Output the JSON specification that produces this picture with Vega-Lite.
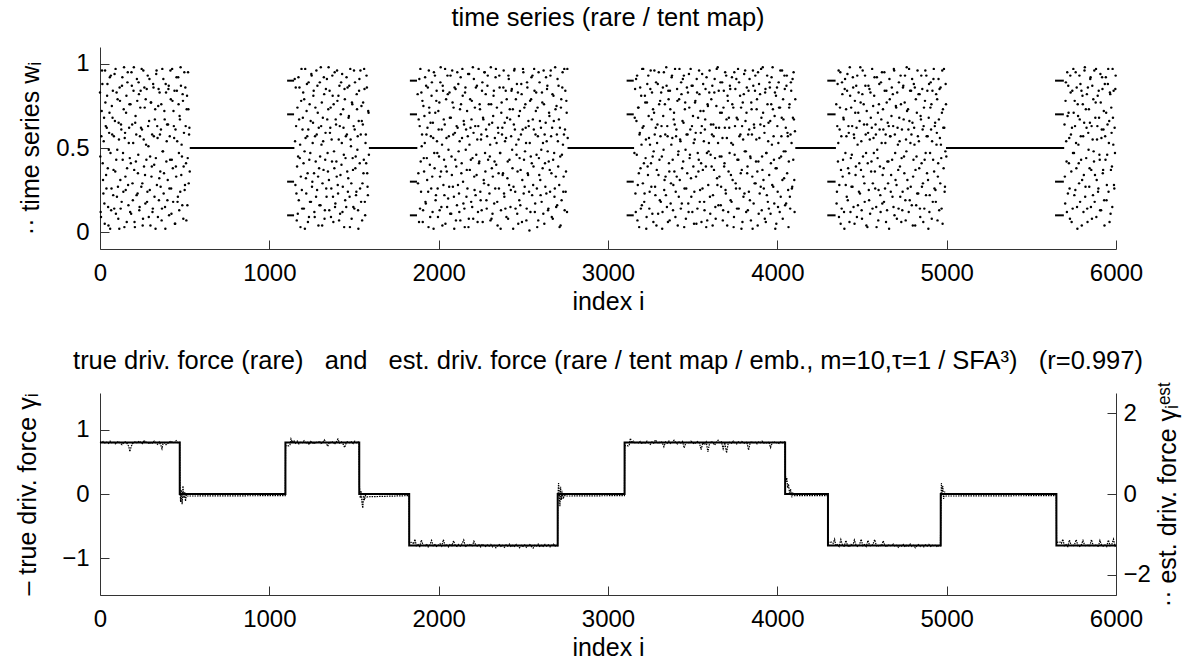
{
"$schema": "https://vega.github.io/schema/vega-lite/v6.json",
"background": "white",
"padding": {"left": 15, "top": 5, "right": 5, "bottom": 2},
"spacing": 34,
"config": {
  "font": "Liberation Sans",
  "view": {"stroke": null},
  "axis": {"labelFont": "Liberation Sans", "labelFontSize": 24, "labelColor": "black", "titleFont": "Liberation Sans", "titleFontSize": 25, "titleFontWeight": "normal", "titleColor": "black", "domainColor": "#333333", "tickColor": "#333333", "grid": false, "tickSize": -9, "labelFlush": false},
  "title": {"font": "Liberation Sans", "fontSize": 25.5, "fontWeight": "normal", "color": "black"}
},
"vconcat": [
{
  "width": 1016, "height": 202,
  "title": {"text": "time series (rare / tent map)", "offset": 16},
  "layer": [
    {
      "data": {"values": [
{"i":0,"w":0.83},{"i":4,"w":0.12},{"i":8,"w":0.57},{"i":12,"w":0.96},{"i":16,"w":0.41},{"i":20,"w":0.23},{"i":24,"w":0.68},{"i":28,"w":0.05},{"i":32,"w":0.77},{"i":36,"w":0.34},
{"i":40,"w":0.62},{"i":44,"w":0.88},{"i":48,"w":0.15},{"i":52,"w":0.49},{"i":56,"w":0.71},{"i":60,"w":0.02},{"i":64,"w":0.93},{"i":68,"w":0.26},{"i":72,"w":0.58},{"i":76,"w":0.84},
{"i":80,"w":0.37},{"i":84,"w":0.14},{"i":88,"w":0.66},{"i":92,"w":0.97},{"i":96,"w":0.43},{"i":100,"w":0.21},{"i":104,"w":0.79},{"i":108,"w":0.08},{"i":112,"w":0.55},{"i":116,"w":0.86},
{"i":120,"w":0.31},{"i":124,"w":0.64},{"i":128,"w":0.18},{"i":132,"w":0.92},{"i":136,"w":0.47},{"i":140,"w":0.73},{"i":144,"w":0.03},{"i":148,"w":0.59},{"i":152,"w":0.25},{"i":156,"w":0.81},
{"i":160,"w":0.38},{"i":164,"w":0.95},{"i":168,"w":0.16},{"i":172,"w":0.62},{"i":176,"w":0.44},{"i":180,"w":0.76},{"i":184,"w":0.11},{"i":188,"w":0.87},{"i":192,"w":0.29},{"i":196,"w":0.53},
{"i":200,"w":0.98},{"i":204,"w":0.06},{"i":208,"w":0.65},{"i":212,"w":0.42},{"i":216,"w":0.22},{"i":220,"w":0.78},{"i":224,"w":0.35},{"i":228,"w":0.89},{"i":232,"w":0.13},{"i":236,"w":0.57},
{"i":240,"w":0.84},{"i":244,"w":0.27},{"i":248,"w":0.61},{"i":252,"w":0.04},{"i":256,"w":0.96},{"i":260,"w":0.39},{"i":264,"w":0.74},{"i":268,"w":0.17},{"i":272,"w":0.52},{"i":276,"w":0.85},
{"i":280,"w":0.24},{"i":284,"w":0.63},{"i":288,"w":0.09},{"i":292,"w":0.91},{"i":296,"w":0.45},{"i":300,"w":0.77},{"i":304,"w":0.33},{"i":308,"w":0.58},{"i":312,"w":0.14},{"i":316,"w":0.86},
{"i":320,"w":0.40},{"i":324,"w":0.67},{"i":328,"w":0.02},{"i":332,"w":0.94},{"i":336,"w":0.28},{"i":340,"w":0.56},{"i":344,"w":0.75},{"i":348,"w":0.19},{"i":352,"w":0.83},{"i":356,"w":0.36},
{"i":360,"w":0.61},{"i":364,"w":0.07},{"i":368,"w":0.97},{"i":372,"w":0.48},{"i":376,"w":0.23},{"i":380,"w":0.72},{"i":384,"w":0.15},{"i":388,"w":0.88},{"i":392,"w":0.42},{"i":396,"w":0.64},
{"i":400,"w":0.31},{"i":404,"w":0.85},{"i":408,"w":0.10},{"i":412,"w":0.57},{"i":416,"w":0.96},{"i":420,"w":0.26},{"i":424,"w":0.43},{"i":428,"w":0.78},{"i":432,"w":0.18},{"i":436,"w":0.63},
{"i":440,"w":0.84},{"i":444,"w":0.05},{"i":448,"w":0.39},{"i":452,"w":0.92},{"i":456,"w":0.54},{"i":460,"w":0.21},{"i":464,"w":0.76},{"i":468,"w":0.13},{"i":472,"w":0.67},{"i":476,"w":0.98},
{"i":480,"w":0.34},{"i":484,"w":0.45},{"i":488,"w":0.82},{"i":492,"w":0.08},{"i":496,"w":0.59},{"i":500,"w":0.25},{"i":504,"w":0.86},{"i":508,"w":0.41},{"i":512,"w":0.73},{"i":516,"w":0.16},
{"i":520,"w":0.95},{"i":524,"w":0.29},{"i":528,"w":0.62},
{"i":1150,"w":0.91},{"i":1154,"w":0.28},{"i":1158,"w":0.63},{"i":1162,"w":0.07},{"i":1166,"w":0.74},{"i":1170,"w":0.45},{"i":1174,"w":0.19},{"i":1178,"w":0.86},{"i":1182,"w":0.52},{"i":1186,"w":0.33},
{"i":1190,"w":0.97},{"i":1194,"w":0.14},{"i":1198,"w":0.68},{"i":1202,"w":0.41},{"i":1206,"w":0.79},{"i":1210,"w":0.02},{"i":1214,"w":0.56},{"i":1218,"w":0.23},{"i":1222,"w":0.88},{"i":1226,"w":0.35},
{"i":1230,"w":0.61},{"i":1234,"w":0.09},{"i":1238,"w":0.76},{"i":1242,"w":0.47},{"i":1246,"w":0.18},{"i":1250,"w":0.93},{"i":1254,"w":0.30},{"i":1258,"w":0.65},{"i":1262,"w":0.84},{"i":1266,"w":0.12},
{"i":1270,"w":0.57},{"i":1274,"w":0.42},{"i":1278,"w":0.96},{"i":1282,"w":0.25},{"i":1286,"w":0.71},{"i":1290,"w":0.04},{"i":1294,"w":0.38},{"i":1298,"w":0.89},{"i":1302,"w":0.16},{"i":1306,"w":0.63},
{"i":1310,"w":0.77},{"i":1314,"w":0.29},{"i":1318,"w":0.54},{"i":1322,"w":0.92},{"i":1326,"w":0.08},{"i":1330,"w":0.43},{"i":1334,"w":0.85},{"i":1338,"w":0.21},{"i":1342,"w":0.67},{"i":1346,"w":0.36},
{"i":1350,"w":0.98},{"i":1354,"w":0.13},{"i":1358,"w":0.59},{"i":1362,"w":0.74},{"i":1366,"w":0.26},{"i":1370,"w":0.42},{"i":1374,"w":0.81},{"i":1378,"w":0.06},{"i":1382,"w":0.48},{"i":1386,"w":0.95},
{"i":1390,"w":0.17},{"i":1394,"w":0.64},{"i":1398,"w":0.33},{"i":1402,"w":0.78},{"i":1406,"w":0.23},{"i":1410,"w":0.55},{"i":1414,"w":0.87},{"i":1418,"w":0.11},{"i":1422,"w":0.70},{"i":1426,"w":0.40},
{"i":1430,"w":0.94},{"i":1434,"w":0.27},{"i":1438,"w":0.62},{"i":1442,"w":0.03},{"i":1446,"w":0.79},{"i":1450,"w":0.44},{"i":1454,"w":0.15},{"i":1458,"w":0.58},{"i":1462,"w":0.86},{"i":1466,"w":0.32},
{"i":1470,"w":0.69},{"i":1474,"w":0.21},{"i":1478,"w":0.97},{"i":1482,"w":0.51},{"i":1486,"w":0.08},{"i":1490,"w":0.76},{"i":1494,"w":0.37},{"i":1498,"w":0.63},{"i":1502,"w":0.14},{"i":1506,"w":0.89},
{"i":1510,"w":0.45},{"i":1514,"w":0.24},{"i":1518,"w":0.73},{"i":1522,"w":0.57},{"i":1526,"w":0.02},{"i":1530,"w":0.84},{"i":1534,"w":0.41},{"i":1538,"w":0.96},{"i":1542,"w":0.18},{"i":1546,"w":0.66},
{"i":1550,"w":0.29},{"i":1554,"w":0.77},{"i":1558,"w":0.43},{"i":1562,"w":0.85},{"i":1566,"w":0.10},{"i":1570,"w":0.58},{"i":1574,"w":0.93},{"i":1578,"w":0.35},{"i":1582,"w":0.22},{"i":1586,"w":0.71},
{"i":1876,"w":0.82},{"i":1880,"w":0.35},{"i":1884,"w":0.06},{"i":1888,"w":0.63},{"i":1892,"w":0.97},{"i":1896,"w":0.24},{"i":1900,"w":0.51},{"i":1904,"w":0.78},{"i":1908,"w":0.13},{"i":1912,"w":0.44},
{"i":1916,"w":0.69},{"i":1920,"w":0.92},{"i":1924,"w":0.17},{"i":1928,"w":0.58},{"i":1932,"w":0.31},{"i":1936,"w":0.86},{"i":1940,"w":0.03},{"i":1944,"w":0.74},{"i":1948,"w":0.40},{"i":1952,"w":0.65},
{"i":1956,"w":0.26},{"i":1960,"w":0.89},{"i":1964,"w":0.12},{"i":1968,"w":0.56},{"i":1972,"w":0.95},{"i":1976,"w":0.38},{"i":1980,"w":0.71},{"i":1984,"w":0.22},{"i":1988,"w":0.84},{"i":1992,"w":0.47},
{"i":1996,"w":0.09},{"i":2000,"w":0.61},{"i":2004,"w":0.77},{"i":2008,"w":0.33},{"i":2012,"w":0.98},{"i":2016,"w":0.15},{"i":2020,"w":0.52},{"i":2024,"w":0.87},{"i":2028,"w":0.28},{"i":2032,"w":0.43},
{"i":2036,"w":0.64},{"i":2040,"w":0.05},{"i":2044,"w":0.79},{"i":2048,"w":0.36},{"i":2052,"w":0.93},{"i":2056,"w":0.20},{"i":2060,"w":0.57},{"i":2064,"w":0.83},{"i":2068,"w":0.11},{"i":2072,"w":0.68},
{"i":2076,"w":0.45},{"i":2080,"w":0.96},{"i":2084,"w":0.27},{"i":2088,"w":0.74},{"i":2092,"w":0.02},{"i":2096,"w":0.59},{"i":2100,"w":0.85},{"i":2104,"w":0.39},{"i":2108,"w":0.16},{"i":2112,"w":0.62},
{"i":2116,"w":0.88},{"i":2120,"w":0.23},{"i":2124,"w":0.54},{"i":2128,"w":0.07},{"i":2132,"w":0.76},{"i":2136,"w":0.41},{"i":2140,"w":0.97},{"i":2144,"w":0.30},{"i":2148,"w":0.66},{"i":2152,"w":0.14},
{"i":2156,"w":0.83},{"i":2160,"w":0.49},{"i":2164,"w":0.21},{"i":2168,"w":0.72},{"i":2172,"w":0.57},{"i":2176,"w":0.03},{"i":2180,"w":0.94},{"i":2184,"w":0.37},{"i":2188,"w":0.62},{"i":2192,"w":0.18},
{"i":2196,"w":0.78},{"i":2200,"w":0.44},{"i":2204,"w":0.08},{"i":2208,"w":0.91},{"i":2212,"w":0.25},{"i":2216,"w":0.63},{"i":2220,"w":0.86},{"i":2224,"w":0.34},{"i":2228,"w":0.55},{"i":2232,"w":0.12},
{"i":2236,"w":0.97},{"i":2240,"w":0.42},{"i":2244,"w":0.73},{"i":2248,"w":0.19},{"i":2252,"w":0.58},{"i":2256,"w":0.84},{"i":2260,"w":0.06},{"i":2264,"w":0.67},{"i":2268,"w":0.29},{"i":2272,"w":0.95},
{"i":2276,"w":0.36},{"i":2280,"w":0.61},{"i":2284,"w":0.14},{"i":2288,"w":0.87},{"i":2292,"w":0.43},{"i":2296,"w":0.76},{"i":2300,"w":0.23},{"i":2304,"w":0.52},{"i":2308,"w":0.98},{"i":2312,"w":0.08},
{"i":2316,"w":0.65},{"i":2320,"w":0.33},{"i":2324,"w":0.81},{"i":2328,"w":0.17},{"i":2332,"w":0.56},{"i":2336,"w":0.92},{"i":2340,"w":0.40},{"i":2344,"w":0.74},{"i":2348,"w":0.04},{"i":2352,"w":0.59},
{"i":2356,"w":0.26},{"i":2360,"w":0.86},{"i":2364,"w":0.47},{"i":2368,"w":0.13},{"i":2372,"w":0.77},{"i":2376,"w":0.62},{"i":2380,"w":0.35},{"i":2384,"w":0.96},{"i":2388,"w":0.21},{"i":2392,"w":0.54},
{"i":2396,"w":0.84},{"i":2400,"w":0.09},{"i":2404,"w":0.68},{"i":2408,"w":0.42},{"i":2412,"w":0.93},{"i":2416,"w":0.28},{"i":2420,"w":0.73},{"i":2424,"w":0.15},{"i":2428,"w":0.57},{"i":2432,"w":0.85},
{"i":2436,"w":0.38},{"i":2440,"w":0.02},{"i":2444,"w":0.64},{"i":2448,"w":0.97},{"i":2452,"w":0.24},{"i":2456,"w":0.79},{"i":2460,"w":0.46},{"i":2464,"w":0.11},{"i":2468,"w":0.83},{"i":2472,"w":0.55},
{"i":2476,"w":0.19},{"i":2480,"w":0.72},{"i":2484,"w":0.37},{"i":2488,"w":0.88},{"i":2492,"w":0.06},{"i":2496,"w":0.61},{"i":2500,"w":0.95},{"i":2504,"w":0.43},{"i":2508,"w":0.27},{"i":2512,"w":0.76},
{"i":2516,"w":0.53},{"i":2520,"w":0.14},{"i":2524,"w":0.86},{"i":2528,"w":0.34},{"i":2532,"w":0.63},{"i":2536,"w":0.01},{"i":2540,"w":0.78},{"i":2544,"w":0.45},{"i":2548,"w":0.92},{"i":2552,"w":0.22},
{"i":2556,"w":0.67},{"i":2560,"w":0.39},{"i":2564,"w":0.97},{"i":2568,"w":0.12},{"i":2572,"w":0.58},{"i":2576,"w":0.83},{"i":2580,"w":0.26},{"i":2584,"w":0.74},{"i":2588,"w":0.07},{"i":2592,"w":0.44},
{"i":2596,"w":0.89},{"i":2600,"w":0.31},{"i":2604,"w":0.62},{"i":2608,"w":0.18},{"i":2612,"w":0.77},{"i":2616,"w":0.53},{"i":2620,"w":0.96},{"i":2624,"w":0.05},{"i":2628,"w":0.41},{"i":2632,"w":0.65},
{"i":2636,"w":0.23},{"i":2640,"w":0.85},{"i":2644,"w":0.48},{"i":2648,"w":0.14},{"i":2652,"w":0.71},{"i":2656,"w":0.37},{"i":2660,"w":0.93},{"i":2664,"w":0.57},{"i":2668,"w":0.09},{"i":2672,"w":0.82},
{"i":2676,"w":0.43},{"i":2680,"w":0.66},{"i":2684,"w":0.21},{"i":2688,"w":0.98},{"i":2692,"w":0.33},{"i":2696,"w":0.75},{"i":2700,"w":0.16},{"i":2704,"w":0.54},{"i":2708,"w":0.87},{"i":2712,"w":0.28},
{"i":2716,"w":0.62},{"i":2720,"w":0.04},{"i":2724,"w":0.79},{"i":2728,"w":0.46},{"i":2732,"w":0.95},{"i":2736,"w":0.24},{"i":2740,"w":0.58},{"i":2744,"w":0.13},{"i":2748,"w":0.84},{"i":2752,"w":0.36},
{"i":2756,"w":0.71},{"i":2760,"w":0.97},
{"i":3156,"w":0.47},{"i":3160,"w":0.85},{"i":3164,"w":0.12},{"i":3168,"w":0.66},{"i":3172,"w":0.93},{"i":3176,"w":0.28},{"i":3180,"w":0.74},{"i":3184,"w":0.03},{"i":3188,"w":0.59},{"i":3192,"w":0.38},
{"i":3196,"w":0.81},{"i":3200,"w":0.16},{"i":3204,"w":0.62},{"i":3208,"w":0.97},{"i":3212,"w":0.41},{"i":3216,"w":0.23},{"i":3220,"w":0.77},{"i":3224,"w":0.55},{"i":3228,"w":0.09},{"i":3232,"w":0.88},
{"i":3236,"w":0.34},{"i":3240,"w":0.69},{"i":3244,"w":0.14},{"i":3248,"w":0.52},{"i":3252,"w":0.96},{"i":3256,"w":0.27},{"i":3260,"w":0.83},{"i":3264,"w":0.45},{"i":3268,"w":0.06},{"i":3272,"w":0.71},
{"i":3276,"w":0.58},{"i":3280,"w":0.22},{"i":3284,"w":0.89},{"i":3288,"w":0.37},{"i":3292,"w":0.64},{"i":3296,"w":0.11},{"i":3300,"w":0.95},{"i":3304,"w":0.43},{"i":3308,"w":0.78},{"i":3312,"w":0.18},
{"i":3316,"w":0.63},{"i":3320,"w":0.02},{"i":3324,"w":0.86},{"i":3328,"w":0.49},{"i":3332,"w":0.25},{"i":3336,"w":0.76},{"i":3340,"w":0.33},{"i":3344,"w":0.98},{"i":3348,"w":0.15},{"i":3352,"w":0.57},
{"i":3356,"w":0.84},{"i":3360,"w":0.41},{"i":3364,"w":0.07},{"i":3368,"w":0.73},{"i":3372,"w":0.29},{"i":3376,"w":0.92},{"i":3380,"w":0.56},{"i":3384,"w":0.13},{"i":3388,"w":0.67},{"i":3392,"w":0.36},
{"i":3396,"w":0.97},{"i":3400,"w":0.24},{"i":3404,"w":0.61},{"i":3408,"w":0.85},{"i":3412,"w":0.04},{"i":3416,"w":0.48},{"i":3420,"w":0.79},{"i":3424,"w":0.31},{"i":3428,"w":0.54},{"i":3432,"w":0.89},
{"i":3436,"w":0.17},{"i":3440,"w":0.66},{"i":3444,"w":0.42},{"i":3448,"w":0.93},{"i":3452,"w":0.26},{"i":3456,"w":0.77},{"i":3460,"w":0.08},{"i":3464,"w":0.58},{"i":3468,"w":0.35},{"i":3472,"w":0.83},
{"i":3476,"w":0.12},{"i":3480,"w":0.74},{"i":3484,"w":0.46},{"i":3488,"w":0.97},{"i":3492,"w":0.21},{"i":3496,"w":0.63},{"i":3500,"w":0.87},{"i":3504,"w":0.39},{"i":3508,"w":0.05},{"i":3512,"w":0.55},
{"i":3516,"w":0.78},{"i":3520,"w":0.33},{"i":3524,"w":0.91},{"i":3528,"w":0.14},{"i":3532,"w":0.68},{"i":3536,"w":0.43},{"i":3540,"w":0.82},{"i":3544,"w":0.25},{"i":3548,"w":0.59},{"i":3552,"w":0.06},
{"i":3556,"w":0.94},{"i":3560,"w":0.37},{"i":3564,"w":0.72},{"i":3568,"w":0.18},{"i":3572,"w":0.61},{"i":3576,"w":0.85},{"i":3580,"w":0.03},{"i":3584,"w":0.47},{"i":3588,"w":0.76},{"i":3592,"w":0.28},
{"i":3596,"w":0.53},{"i":3600,"w":0.96},{"i":3604,"w":0.11},{"i":3608,"w":0.64},{"i":3612,"w":0.39},{"i":3616,"w":0.87},{"i":3620,"w":0.22},{"i":3624,"w":0.57},{"i":3628,"w":0.83},{"i":3632,"w":0.44},
{"i":3636,"w":0.08},{"i":3640,"w":0.75},{"i":3644,"w":0.32},{"i":3648,"w":0.98},{"i":3652,"w":0.16},{"i":3656,"w":0.62},{"i":3660,"w":0.45},{"i":3664,"w":0.89},{"i":3668,"w":0.27},{"i":3672,"w":0.71},
{"i":3676,"w":0.56},{"i":3680,"w":0.13},{"i":3684,"w":0.84},{"i":3688,"w":0.41},{"i":3692,"w":0.95},{"i":3696,"w":0.23},{"i":3700,"w":0.67},{"i":3704,"w":0.04},{"i":3708,"w":0.78},{"i":3712,"w":0.36},
{"i":3716,"w":0.62},{"i":3720,"w":0.87},{"i":3724,"w":0.19},{"i":3728,"w":0.53},{"i":3732,"w":0.92},{"i":3736,"w":0.31},{"i":3740,"w":0.74},{"i":3744,"w":0.09},{"i":3748,"w":0.46},{"i":3752,"w":0.85},
{"i":3756,"w":0.26},{"i":3760,"w":0.68},{"i":3764,"w":0.43},{"i":3768,"w":0.97},{"i":3772,"w":0.14},{"i":3776,"w":0.57},{"i":3780,"w":0.81},{"i":3784,"w":0.35},{"i":3788,"w":0.02},{"i":3792,"w":0.63},
{"i":3796,"w":0.77},{"i":3800,"w":0.21},{"i":3804,"w":0.94},{"i":3808,"w":0.48},{"i":3812,"w":0.66},{"i":3816,"w":0.12},{"i":3820,"w":0.86},{"i":3824,"w":0.39},{"i":3828,"w":0.58},{"i":3832,"w":0.24},
{"i":3836,"w":0.91},{"i":3840,"w":0.45},{"i":3844,"w":0.07},{"i":3848,"w":0.73},{"i":3852,"w":0.33},{"i":3856,"w":0.96},{"i":3860,"w":0.17},{"i":3864,"w":0.62},{"i":3868,"w":0.84},{"i":3872,"w":0.29},
{"i":3876,"w":0.55},{"i":3880,"w":0.79},{"i":3884,"w":0.04},{"i":3888,"w":0.42},{"i":3892,"w":0.88},{"i":3896,"w":0.23},{"i":3900,"w":0.64},{"i":3904,"w":0.97},{"i":3908,"w":0.13},{"i":3912,"w":0.37},
{"i":3916,"w":0.71},{"i":3920,"w":0.26},{"i":3924,"w":0.59},{"i":3928,"w":0.83},{"i":3932,"w":0.06},{"i":3936,"w":0.47},{"i":3940,"w":0.93},{"i":3944,"w":0.18},{"i":3948,"w":0.65},{"i":3952,"w":0.34},
{"i":3956,"w":0.86},{"i":3960,"w":0.11},{"i":3964,"w":0.76},{"i":3968,"w":0.52},{"i":3972,"w":0.98},{"i":3976,"w":0.27},{"i":3980,"w":0.43},{"i":3984,"w":0.69},{"i":3988,"w":0.02},{"i":3992,"w":0.81},
{"i":3996,"w":0.38},{"i":4000,"w":0.63},{"i":4004,"w":0.15},{"i":4008,"w":0.89},{"i":4012,"w":0.44},{"i":4016,"w":0.74},{"i":4020,"w":0.21},{"i":4024,"w":0.57},{"i":4028,"w":0.96},{"i":4032,"w":0.08},
{"i":4036,"w":0.67},{"i":4040,"w":0.32},{"i":4044,"w":0.85},{"i":4048,"w":0.48},{"i":4052,"w":0.17},{"i":4056,"w":0.93},{"i":4060,"w":0.59},{"i":4064,"w":0.25},{"i":4068,"w":0.42},{"i":4072,"w":0.76},
{"i":4076,"w":0.14},{"i":4080,"w":0.89},{"i":4084,"w":0.53},{"i":4088,"w":0.27},{"i":4092,"w":0.68},{"i":4096,"w":0.95},{"i":4100,"w":0.31},{"i":4104,"w":0.60},
{"i":4348,"w":0.76},{"i":4352,"w":0.24},{"i":4356,"w":0.88},{"i":4360,"w":0.53},{"i":4364,"w":0.09},{"i":4368,"w":0.61},{"i":4372,"w":0.95},{"i":4376,"w":0.37},{"i":4380,"w":0.14},{"i":4384,"w":0.82},
{"i":4388,"w":0.43},{"i":4392,"w":0.67},{"i":4396,"w":0.02},{"i":4400,"w":0.91},{"i":4404,"w":0.28},{"i":4408,"w":0.57},{"i":4412,"w":0.84},{"i":4416,"w":0.19},{"i":4420,"w":0.63},{"i":4424,"w":0.35},
{"i":4428,"w":0.98},{"i":4432,"w":0.12},{"i":4436,"w":0.74},{"i":4440,"w":0.46},{"i":4444,"w":0.27},{"i":4448,"w":0.86},{"i":4452,"w":0.58},{"i":4456,"w":0.05},{"i":4460,"w":0.71},{"i":4464,"w":0.39},
{"i":4468,"w":0.62},{"i":4472,"w":0.93},{"i":4476,"w":0.16},{"i":4480,"w":0.83},{"i":4484,"w":0.41},{"i":4488,"w":0.23},{"i":4492,"w":0.77},{"i":4496,"w":0.54},{"i":4500,"w":0.08},{"i":4504,"w":0.96},
{"i":4508,"w":0.33},{"i":4512,"w":0.64},{"i":4516,"w":0.18},{"i":4520,"w":0.87},{"i":4524,"w":0.47},{"i":4528,"w":0.72},{"i":4532,"w":0.03},{"i":4536,"w":0.59},{"i":4540,"w":0.25},{"i":4544,"w":0.85},
{"i":4548,"w":0.11},{"i":4552,"w":0.68},{"i":4556,"w":0.42},{"i":4560,"w":0.97},{"i":4564,"w":0.29},{"i":4568,"w":0.56},{"i":4572,"w":0.81},{"i":4576,"w":0.36},{"i":4580,"w":0.64},{"i":4584,"w":0.15},
{"i":4588,"w":0.92},{"i":4592,"w":0.44},{"i":4596,"w":0.07},{"i":4600,"w":0.76},{"i":4604,"w":0.61},{"i":4608,"w":0.22},{"i":4612,"w":0.89},{"i":4616,"w":0.53},{"i":4620,"w":0.17},{"i":4624,"w":0.73},
{"i":4628,"w":0.38},{"i":4632,"w":0.95},{"i":4636,"w":0.26},{"i":4640,"w":0.58},{"i":4644,"w":0.84},{"i":4648,"w":0.13},{"i":4652,"w":0.65},{"i":4656,"w":0.42},{"i":4660,"w":0.02},{"i":4664,"w":0.79},
{"i":4668,"w":0.57},{"i":4672,"w":0.34},{"i":4676,"w":0.86},{"i":4680,"w":0.21},{"i":4684,"w":0.63},{"i":4688,"w":0.97},{"i":4692,"w":0.10},{"i":4696,"w":0.47},{"i":4700,"w":0.75},{"i":4704,"w":0.28},
{"i":4708,"w":0.83},{"i":4712,"w":0.52},{"i":4716,"w":0.14},{"i":4720,"w":0.68},{"i":4724,"w":0.39},{"i":4728,"w":0.93},{"i":4732,"w":0.06},{"i":4736,"w":0.61},{"i":4740,"w":0.24},{"i":4744,"w":0.87},
{"i":4748,"w":0.45},{"i":4752,"w":0.77},{"i":4756,"w":0.19},{"i":4760,"w":0.55},{"i":4764,"w":0.98},{"i":4768,"w":0.31},{"i":4772,"w":0.73},{"i":4776,"w":0.12},{"i":4780,"w":0.66},{"i":4784,"w":0.84},
{"i":4788,"w":0.27},{"i":4792,"w":0.58},{"i":4796,"w":0.91},{"i":4800,"w":0.04},{"i":4804,"w":0.43},{"i":4808,"w":0.62},{"i":4812,"w":0.86},{"i":4816,"w":0.37},{"i":4820,"w":0.16},{"i":4824,"w":0.71},
{"i":4828,"w":0.96},{"i":4832,"w":0.23},{"i":4836,"w":0.54},{"i":4840,"w":0.82},{"i":4844,"w":0.09},{"i":4848,"w":0.67},{"i":4852,"w":0.41},{"i":4856,"w":0.85},{"i":4860,"w":0.29},{"i":4864,"w":0.63},
{"i":4868,"w":0.14},{"i":4872,"w":0.78},{"i":4876,"w":0.47},{"i":4880,"w":0.93},{"i":4884,"w":0.35},{"i":4888,"w":0.57},{"i":4892,"w":0.02},{"i":4896,"w":0.88},{"i":4900,"w":0.22},{"i":4904,"w":0.74},
{"i":4908,"w":0.61},{"i":4912,"w":0.08},{"i":4916,"w":0.84},{"i":4920,"w":0.43},{"i":4924,"w":0.97},{"i":4928,"w":0.26},{"i":4932,"w":0.65},{"i":4936,"w":0.18},{"i":4940,"w":0.52},{"i":4944,"w":0.79},
{"i":4948,"w":0.33},{"i":4952,"w":0.91},{"i":4956,"w":0.13},{"i":4960,"w":0.56},{"i":4964,"w":0.86},{"i":4968,"w":0.44},{"i":4972,"w":0.71},{"i":4976,"w":0.05},{"i":4980,"w":0.62},{"i":4984,"w":0.97},
{"i":4988,"w":0.24},{"i":4992,"w":0.48},{"i":4996,"w":0.76},
{"i":5696,"w":0.64},{"i":5700,"w":0.17},{"i":5704,"w":0.89},{"i":5708,"w":0.42},{"i":5712,"w":0.95},{"i":5716,"w":0.23},{"i":5720,"w":0.71},{"i":5724,"w":0.56},{"i":5728,"w":0.08},{"i":5732,"w":0.83},
{"i":5736,"w":0.36},{"i":5740,"w":0.62},{"i":5744,"w":0.14},{"i":5748,"w":0.97},{"i":5752,"w":0.47},{"i":5756,"w":0.78},{"i":5760,"w":0.25},{"i":5764,"w":0.53},{"i":5768,"w":0.86},{"i":5772,"w":0.02},
{"i":5776,"w":0.69},{"i":5780,"w":0.41},{"i":5784,"w":0.93},{"i":5788,"w":0.18},{"i":5792,"w":0.57},{"i":5796,"w":0.84},{"i":5800,"w":0.31},{"i":5804,"w":0.76},{"i":5808,"w":0.12},{"i":5812,"w":0.65},
{"i":5816,"w":0.98},{"i":5820,"w":0.27},{"i":5824,"w":0.44},{"i":5828,"w":0.82},{"i":5832,"w":0.06},{"i":5836,"w":0.59},{"i":5840,"w":0.73},{"i":5844,"w":0.38},{"i":5848,"w":0.91},{"i":5852,"w":0.15},
{"i":5856,"w":0.63},{"i":5860,"w":0.87},{"i":5864,"w":0.22},{"i":5868,"w":0.48},{"i":5872,"w":0.96},{"i":5876,"w":0.34},{"i":5880,"w":0.77},{"i":5884,"w":0.09},{"i":5888,"w":0.55},{"i":5892,"w":0.81},
{"i":5896,"w":0.26},{"i":5900,"w":0.68},{"i":5904,"w":0.43},{"i":5908,"w":0.94},{"i":5912,"w":0.13},{"i":5916,"w":0.61},{"i":5920,"w":0.85},{"i":5924,"w":0.37},{"i":5928,"w":0.72},{"i":5932,"w":0.04},
{"i":5936,"w":0.57},{"i":5940,"w":0.92},{"i":5944,"w":0.19},{"i":5948,"w":0.46},{"i":5952,"w":0.88},{"i":5956,"w":0.24},{"i":5960,"w":0.66},{"i":5964,"w":0.83},{"i":5968,"w":0.11},{"i":5972,"w":0.74},
{"i":5976,"w":0.39},{"i":5980,"w":0.97},{"i":5984,"w":0.52},{"i":5988,"w":0.28},{"i":5992,"w":0.62},{"i":5996,"w":0.85},
{"i":2,"w":0.45},{"i":6,"w":0.09},{"i":10,"w":0.72},{"i":14,"w":0.88},{"i":18,"w":0.31},{"i":22,"w":0.54},{"i":26,"w":0.17},{"i":30,"w":0.96},{"i":34,"w":0.63},{"i":38,"w":0.26},
{"i":42,"w":0.81},{"i":46,"w":0.38},{"i":50,"w":0.04},{"i":54,"w":0.59},{"i":58,"w":0.92},{"i":62,"w":0.47},{"i":66,"w":0.13},{"i":70,"w":0.75},{"i":74,"w":0.68},{"i":78,"w":0.22},
{"i":82,"w":0.57},{"i":86,"w":0.94},{"i":90,"w":0.36},{"i":94,"w":0.11},{"i":98,"w":0.83},{"i":102,"w":0.49},{"i":106,"w":0.27},{"i":110,"w":0.65},{"i":114,"w":0.02},{"i":118,"w":0.78},
{"i":122,"w":0.14},{"i":126,"w":0.61},{"i":130,"w":0.87},{"i":134,"w":0.43},{"i":138,"w":0.24},{"i":142,"w":0.98},{"i":146,"w":0.56},{"i":150,"w":0.33},{"i":154,"w":0.71},{"i":158,"w":0.06},
{"i":162,"w":0.89},{"i":166,"w":0.28},{"i":170,"w":0.53},{"i":174,"w":0.76},{"i":178,"w":0.12},{"i":182,"w":0.41},{"i":186,"w":0.95},{"i":190,"w":0.64},{"i":194,"w":0.19},{"i":198,"w":0.84},
{"i":202,"w":0.37},{"i":206,"w":0.03},{"i":210,"w":0.69},{"i":214,"w":0.58},{"i":218,"w":0.91},{"i":222,"w":0.23},{"i":226,"w":0.46},{"i":230,"w":0.82},{"i":234,"w":0.15},{"i":238,"w":0.74},
{"i":242,"w":0.62},{"i":246,"w":0.97},{"i":250,"w":0.29},{"i":254,"w":0.08},{"i":258,"w":0.55},{"i":262,"w":0.86},{"i":266,"w":0.34},{"i":270,"w":0.79},{"i":274,"w":0.43},{"i":278,"w":0.18},
{"i":282,"w":0.93},{"i":286,"w":0.51},{"i":290,"w":0.66},{"i":294,"w":0.25},{"i":298,"w":0.04},{"i":302,"w":0.77},{"i":306,"w":0.39},{"i":310,"w":0.12},{"i":314,"w":0.88},{"i":318,"w":0.57},
{"i":322,"w":0.21},{"i":326,"w":0.73},{"i":330,"w":0.44},{"i":334,"w":0.96},{"i":338,"w":0.63},{"i":342,"w":0.09},{"i":346,"w":0.85},{"i":350,"w":0.32},{"i":354,"w":0.58},{"i":358,"w":0.27},
{"i":362,"w":0.76},{"i":366,"w":0.14},{"i":370,"w":0.48},{"i":374,"w":0.91},{"i":378,"w":0.35},{"i":382,"w":0.67},{"i":386,"w":0.02},{"i":390,"w":0.83},{"i":394,"w":0.54},{"i":398,"w":0.19},
{"i":402,"w":0.64},{"i":406,"w":0.87},{"i":410,"w":0.26},{"i":414,"w":0.43},{"i":418,"w":0.79},{"i":422,"w":0.11},{"i":426,"w":0.97},{"i":430,"w":0.38},{"i":434,"w":0.72},{"i":438,"w":0.56},
{"i":442,"w":0.05},{"i":446,"w":0.61},{"i":450,"w":0.33},{"i":454,"w":0.84},{"i":458,"w":0.18},{"i":462,"w":0.92},{"i":466,"w":0.47},{"i":470,"w":0.69},{"i":474,"w":0.24},{"i":478,"w":0.87},
{"i":482,"w":0.52},{"i":486,"w":0.16},{"i":490,"w":0.78},{"i":494,"w":0.39},{"i":498,"w":0.95},{"i":502,"w":0.28},{"i":506,"w":0.63},{"i":510,"w":0.07},{"i":514,"w":0.81},{"i":518,"w":0.44},
{"i":522,"w":0.73},{"i":526,"w":0.58},{"i":530,"w":0.36},
{"i":1152,"w":0.54},{"i":1156,"w":0.86},{"i":1160,"w":0.23},{"i":1164,"w":0.39},{"i":1168,"w":0.11},{"i":1172,"w":0.92},{"i":1176,"w":0.67},{"i":1180,"w":0.44},{"i":1184,"w":0.03},{"i":1188,"w":0.78},
{"i":1192,"w":0.25},{"i":1196,"w":0.61},{"i":1200,"w":0.83},{"i":1204,"w":0.14},{"i":1208,"w":0.48},{"i":1212,"w":0.97},{"i":1216,"w":0.32},{"i":1220,"w":0.72},{"i":1224,"w":0.57},{"i":1228,"w":0.06},
{"i":1232,"w":0.89},{"i":1236,"w":0.43},{"i":1240,"w":0.18},{"i":1244,"w":0.66},{"i":1248,"w":0.94},{"i":1252,"w":0.27},{"i":1256,"w":0.53},{"i":1260,"w":0.81},{"i":1264,"w":0.35},{"i":1268,"w":0.09},
{"i":1272,"w":0.74},{"i":1276,"w":0.21},{"i":1280,"w":0.58},{"i":1284,"w":0.87},{"i":1288,"w":0.33},{"i":1292,"w":0.62},{"i":1296,"w":0.16},{"i":1300,"w":0.45},{"i":1304,"w":0.98},{"i":1308,"w":0.52},
{"i":1312,"w":0.04},{"i":1316,"w":0.68},{"i":1320,"w":0.37},{"i":1324,"w":0.82},{"i":1328,"w":0.13},{"i":1332,"w":0.59},{"i":1336,"w":0.26},{"i":1340,"w":0.91},{"i":1344,"w":0.47},{"i":1348,"w":0.73},
{"i":1352,"w":0.31},{"i":1356,"w":0.84},{"i":1360,"w":0.62},{"i":1364,"w":0.09},{"i":1368,"w":0.55},{"i":1372,"w":0.93},{"i":1376,"w":0.21},{"i":1380,"w":0.76},{"i":1384,"w":0.38},{"i":1388,"w":0.15},
{"i":1392,"w":0.67},{"i":1396,"w":0.42},{"i":1400,"w":0.96},{"i":1404,"w":0.28},{"i":1408,"w":0.81},{"i":1412,"w":0.07},{"i":1416,"w":0.63},{"i":1420,"w":0.34},{"i":1424,"w":0.89},{"i":1428,"w":0.53},
{"i":1432,"w":0.12},{"i":1436,"w":0.73},{"i":1440,"w":0.46},{"i":1444,"w":0.85},{"i":1448,"w":0.19},{"i":1452,"w":0.57},{"i":1456,"w":0.92},{"i":1460,"w":0.36},{"i":1464,"w":0.24},{"i":1468,"w":0.68},
{"i":1472,"w":0.87},{"i":1476,"w":0.03},{"i":1480,"w":0.55},{"i":1484,"w":0.29},{"i":1488,"w":0.77},{"i":1492,"w":0.44},{"i":1496,"w":0.15},{"i":1500,"w":0.96},{"i":1504,"w":0.61},{"i":1508,"w":0.38},
{"i":1512,"w":0.22},{"i":1516,"w":0.82},{"i":1520,"w":0.49},{"i":1524,"w":0.13},{"i":1528,"w":0.66},{"i":1532,"w":0.91},{"i":1536,"w":0.26},{"i":1540,"w":0.58},{"i":1544,"w":0.75},{"i":1548,"w":0.07},
{"i":1552,"w":0.64},{"i":1556,"w":0.35},{"i":1560,"w":0.97},{"i":1564,"w":0.18},{"i":1568,"w":0.53},{"i":1572,"w":0.41},{"i":1576,"w":0.86},{"i":1580,"w":0.27},{"i":1584,"w":0.72},{"i":1588,"w":0.46},
{"i":1878,"w":0.29},{"i":1882,"w":0.67},{"i":1886,"w":0.91},{"i":1890,"w":0.14},{"i":1894,"w":0.42},{"i":1898,"w":0.83},{"i":1902,"w":0.58},{"i":1906,"w":0.06},{"i":1910,"w":0.75},{"i":1914,"w":0.36},
{"i":1918,"w":0.53},{"i":1922,"w":0.18},{"i":1926,"w":0.87},{"i":1930,"w":0.44},{"i":1934,"w":0.62},{"i":1938,"w":0.24},{"i":1942,"w":0.96},{"i":1946,"w":0.71},{"i":1950,"w":0.09},{"i":1954,"w":0.57},
{"i":1958,"w":0.81},{"i":1962,"w":0.33},{"i":1966,"w":0.65},{"i":1970,"w":0.02},{"i":1974,"w":0.47},{"i":1978,"w":0.93},{"i":1982,"w":0.19},{"i":1986,"w":0.78},{"i":1990,"w":0.54},{"i":1994,"w":0.26},
{"i":1998,"w":0.72},{"i":2002,"w":0.45},{"i":2006,"w":0.13},{"i":2010,"w":0.89},{"i":2014,"w":0.36},{"i":2018,"w":0.61},{"i":2022,"w":0.04},{"i":2026,"w":0.84},{"i":2030,"w":0.67},{"i":2034,"w":0.22},
{"i":2038,"w":0.97},{"i":2042,"w":0.39},{"i":2046,"w":0.56},{"i":2050,"w":0.15},{"i":2054,"w":0.82},{"i":2058,"w":0.49},{"i":2062,"w":0.27},{"i":2066,"w":0.68},{"i":2070,"w":0.93},{"i":2074,"w":0.11},
{"i":2078,"w":0.34},{"i":2082,"w":0.77},{"i":2086,"w":0.58},{"i":2090,"w":0.21},{"i":2094,"w":0.86},{"i":2098,"w":0.43},{"i":2102,"w":0.07},{"i":2106,"w":0.63},{"i":2110,"w":0.95},{"i":2114,"w":0.28},
{"i":2118,"w":0.48},{"i":2122,"w":0.12},{"i":2126,"w":0.73},{"i":2130,"w":0.92},{"i":2134,"w":0.35},{"i":2138,"w":0.56},{"i":2142,"w":0.81},{"i":2146,"w":0.17},{"i":2150,"w":0.64},{"i":2154,"w":0.03},
{"i":2158,"w":0.86},{"i":2162,"w":0.61},{"i":2166,"w":0.37},{"i":2170,"w":0.26},{"i":2174,"w":0.94},{"i":2178,"w":0.08},{"i":2182,"w":0.52},{"i":2186,"w":0.79},{"i":2190,"w":0.43},{"i":2194,"w":0.67},
{"i":2198,"w":0.15},{"i":2202,"w":0.98},{"i":2206,"w":0.59},{"i":2210,"w":0.33},{"i":2214,"w":0.74},{"i":2218,"w":0.22},{"i":2222,"w":0.46},{"i":2226,"w":0.87},{"i":2230,"w":0.06},{"i":2234,"w":0.63},
{"i":2238,"w":0.41},{"i":2242,"w":0.76},{"i":2246,"w":0.24},{"i":2250,"w":0.55},{"i":2254,"w":0.13},{"i":2258,"w":0.89},{"i":2262,"w":0.68},{"i":2266,"w":0.31},{"i":2270,"w":0.95},{"i":2274,"w":0.47},
{"i":2278,"w":0.82},{"i":2282,"w":0.19},{"i":2286,"w":0.57},{"i":2290,"w":0.93},{"i":2294,"w":0.28},{"i":2298,"w":0.64},{"i":2302,"w":0.45},{"i":2306,"w":0.07},{"i":2310,"w":0.76},{"i":2314,"w":0.38},
{"i":2318,"w":0.11},{"i":2322,"w":0.69},{"i":2326,"w":0.84},{"i":2330,"w":0.42},{"i":2334,"w":0.26},{"i":2338,"w":0.97},{"i":2342,"w":0.53},{"i":2346,"w":0.18},{"i":2350,"w":0.62},{"i":2354,"w":0.35},
{"i":2358,"w":0.93},{"i":2362,"w":0.47},{"i":2366,"w":0.02},{"i":2370,"w":0.71},{"i":2374,"w":0.58},{"i":2378,"w":0.34},{"i":2382,"w":0.86},{"i":2386,"w":0.23},{"i":2390,"w":0.65},{"i":2394,"w":0.14},
{"i":2398,"w":0.56},{"i":2402,"w":0.79},{"i":2406,"w":0.32},{"i":2410,"w":0.08},{"i":2414,"w":0.91},{"i":2418,"w":0.43},{"i":2422,"w":0.67},{"i":2426,"w":0.25},{"i":2430,"w":0.84},{"i":2434,"w":0.49},
{"i":2438,"w":0.73},{"i":2442,"w":0.27},{"i":2446,"w":0.96},{"i":2450,"w":0.61},{"i":2454,"w":0.14},{"i":2458,"w":0.52},{"i":2462,"w":0.88},{"i":2466,"w":0.36},{"i":2470,"w":0.05},{"i":2474,"w":0.69},
{"i":2478,"w":0.44},{"i":2482,"w":0.16},{"i":2486,"w":0.58},{"i":2490,"w":0.82},{"i":2494,"w":0.31},{"i":2498,"w":0.97},{"i":2502,"w":0.23},{"i":2506,"w":0.74},{"i":2510,"w":0.48},{"i":2514,"w":0.62},
{"i":2518,"w":0.07},{"i":2522,"w":0.89},{"i":2526,"w":0.35},{"i":2530,"w":0.66},{"i":2534,"w":0.24},{"i":2538,"w":0.53},{"i":2542,"w":0.12},{"i":2546,"w":0.79},{"i":2550,"w":0.41},{"i":2554,"w":0.93},
{"i":2558,"w":0.28},{"i":2562,"w":0.61},{"i":2566,"w":0.84},{"i":2570,"w":0.17},{"i":2574,"w":0.72},{"i":2578,"w":0.46},{"i":2582,"w":0.03},{"i":2586,"w":0.57},{"i":2590,"w":0.95},{"i":2594,"w":0.34},
{"i":2598,"w":0.66},{"i":2602,"w":0.22},{"i":2606,"w":0.49},{"i":2610,"w":0.83},{"i":2614,"w":0.38},{"i":2618,"w":0.11},{"i":2622,"w":0.76},{"i":2626,"w":0.58},{"i":2630,"w":0.27},{"i":2634,"w":0.92},
{"i":2638,"w":0.54},{"i":2642,"w":0.87},{"i":2646,"w":0.13},{"i":2650,"w":0.42},{"i":2654,"w":0.69},{"i":2658,"w":0.24},{"i":2662,"w":0.96},{"i":2666,"w":0.35},{"i":2670,"w":0.62},{"i":2674,"w":0.08},
{"i":2678,"w":0.81},{"i":2682,"w":0.47},{"i":2686,"w":0.26},{"i":2690,"w":0.73},{"i":2694,"w":0.15},{"i":2698,"w":0.58},{"i":2702,"w":0.91},{"i":2706,"w":0.39},{"i":2710,"w":0.67},{"i":2714,"w":0.03},
{"i":2718,"w":0.45},{"i":2722,"w":0.74},{"i":2726,"w":0.19},{"i":2730,"w":0.86},{"i":2734,"w":0.52},{"i":2738,"w":0.33},{"i":2742,"w":0.97},{"i":2746,"w":0.61},{"i":2750,"w":0.24},{"i":2754,"w":0.78},
{"i":2758,"w":0.12},{"i":2762,"w":0.56},
{"i":3158,"w":0.68},{"i":3162,"w":0.23},{"i":3166,"w":0.91},{"i":3170,"w":0.46},{"i":3174,"w":0.07},{"i":3178,"w":0.74},{"i":3182,"w":0.35},{"i":3186,"w":0.58},{"i":3190,"w":0.86},{"i":3194,"w":0.14},
{"i":3198,"w":0.52},{"i":3202,"w":0.97},{"i":3206,"w":0.29},{"i":3210,"w":0.63},{"i":3214,"w":0.18},{"i":3218,"w":0.81},{"i":3222,"w":0.44},{"i":3226,"w":0.02},{"i":3230,"w":0.77},{"i":3234,"w":0.39},
{"i":3238,"w":0.93},{"i":3242,"w":0.56},{"i":3246,"w":0.24},{"i":3250,"w":0.85},{"i":3254,"w":0.41},{"i":3258,"w":0.67},{"i":3262,"w":0.11},{"i":3266,"w":0.73},{"i":3270,"w":0.48},{"i":3274,"w":0.96},
{"i":3278,"w":0.27},{"i":3282,"w":0.62},{"i":3286,"w":0.04},{"i":3290,"w":0.53},{"i":3294,"w":0.88},{"i":3298,"w":0.34},{"i":3302,"w":0.76},{"i":3306,"w":0.19},{"i":3310,"w":0.57},{"i":3314,"w":0.83},
{"i":3318,"w":0.45},{"i":3322,"w":0.12},{"i":3326,"w":0.69},{"i":3330,"w":0.95},{"i":3334,"w":0.31},{"i":3338,"w":0.58},{"i":3342,"w":0.22},{"i":3346,"w":0.87},{"i":3350,"w":0.63},{"i":3354,"w":0.06},
{"i":3358,"w":0.79},{"i":3362,"w":0.36},{"i":3366,"w":0.84},{"i":3370,"w":0.17},{"i":3374,"w":0.52},{"i":3378,"w":0.93},{"i":3382,"w":0.43},{"i":3386,"w":0.28},{"i":3390,"w":0.71},{"i":3394,"w":0.64},
{"i":3398,"w":0.09},{"i":3402,"w":0.57},{"i":3406,"w":0.33},{"i":3410,"w":0.78},{"i":3414,"w":0.46},{"i":3418,"w":0.21},{"i":3422,"w":0.97},{"i":3426,"w":0.55},{"i":3430,"w":0.14},{"i":3434,"w":0.82},
{"i":3438,"w":0.38},{"i":3442,"w":0.91},{"i":3446,"w":0.65},{"i":3450,"w":0.03},{"i":3454,"w":0.73},{"i":3458,"w":0.49},{"i":3462,"w":0.26},{"i":3466,"w":0.86},{"i":3470,"w":0.58},{"i":3474,"w":0.17},
{"i":3478,"w":0.94},{"i":3482,"w":0.44},{"i":3486,"w":0.61},{"i":3490,"w":0.32},{"i":3494,"w":0.87},{"i":3498,"w":0.12},{"i":3502,"w":0.69},{"i":3506,"w":0.53},{"i":3510,"w":0.24},{"i":3514,"w":0.77},
{"i":3518,"w":0.59},{"i":3522,"w":0.05},{"i":3526,"w":0.83},{"i":3530,"w":0.47},{"i":3534,"w":0.36},{"i":3538,"w":0.96},{"i":3542,"w":0.18},{"i":3546,"w":0.72},{"i":3550,"w":0.41},{"i":3554,"w":0.63},
{"i":3558,"w":0.26},{"i":3562,"w":0.88},{"i":3566,"w":0.54},{"i":3570,"w":0.13},{"i":3574,"w":0.67},{"i":3578,"w":0.39},{"i":3582,"w":0.92},{"i":3586,"w":0.07},{"i":3590,"w":0.75},{"i":3594,"w":0.48},
{"i":3598,"w":0.83},{"i":3602,"w":0.21},{"i":3606,"w":0.46},{"i":3610,"w":0.79},{"i":3614,"w":0.58},{"i":3618,"w":0.04},{"i":3622,"w":0.64},{"i":3626,"w":0.37},{"i":3630,"w":0.91},{"i":3634,"w":0.15},
{"i":3638,"w":0.62},{"i":3642,"w":0.97},{"i":3646,"w":0.28},{"i":3650,"w":0.53},{"i":3654,"w":0.84},{"i":3658,"w":0.33},{"i":3662,"w":0.71},{"i":3666,"w":0.16},{"i":3670,"w":0.45},{"i":3674,"w":0.89},
{"i":3678,"w":0.07},{"i":3682,"w":0.74},{"i":3686,"w":0.39},{"i":3690,"w":0.62},{"i":3694,"w":0.25},{"i":3698,"w":0.93},{"i":3702,"w":0.56},{"i":3706,"w":0.81},{"i":3710,"w":0.12},{"i":3714,"w":0.68},
{"i":3718,"w":0.47},{"i":3722,"w":0.85},{"i":3726,"w":0.34},{"i":3730,"w":0.18},{"i":3734,"w":0.76},{"i":3738,"w":0.52},{"i":3742,"w":0.03},{"i":3746,"w":0.95},{"i":3750,"w":0.63},{"i":3754,"w":0.29},
{"i":3758,"w":0.91},{"i":3762,"w":0.14},{"i":3766,"w":0.67},{"i":3770,"w":0.43},{"i":3774,"w":0.89},{"i":3778,"w":0.26},{"i":3782,"w":0.58},{"i":3786,"w":0.74},{"i":3790,"w":0.37},{"i":3794,"w":0.06},
{"i":3798,"w":0.55},{"i":3802,"w":0.82},{"i":3806,"w":0.23},{"i":3810,"w":0.96},{"i":3814,"w":0.48},{"i":3818,"w":0.71},{"i":3822,"w":0.35},{"i":3826,"w":0.13},{"i":3830,"w":0.84},{"i":3834,"w":0.61},
{"i":3838,"w":0.19},{"i":3842,"w":0.44},{"i":3846,"w":0.77},{"i":3850,"w":0.58},{"i":3854,"w":0.02},{"i":3858,"w":0.87},{"i":3862,"w":0.64},{"i":3866,"w":0.29},{"i":3870,"w":0.93},{"i":3874,"w":0.42},
{"i":3878,"w":0.73},{"i":3882,"w":0.36},{"i":3886,"w":0.95},{"i":3890,"w":0.11},{"i":3894,"w":0.56},{"i":3898,"w":0.82},{"i":3902,"w":0.27},{"i":3906,"w":0.68},{"i":3910,"w":0.45},{"i":3914,"w":0.98},
{"i":3918,"w":0.31},{"i":3922,"w":0.63},{"i":3926,"w":0.08},{"i":3930,"w":0.85},{"i":3934,"w":0.47},{"i":3938,"w":0.22},{"i":3942,"w":0.76},{"i":3946,"w":0.54},{"i":3950,"w":0.14},{"i":3954,"w":0.89},
{"i":3958,"w":0.66},{"i":3962,"w":0.41},{"i":3966,"w":0.92},{"i":3970,"w":0.28},{"i":3974,"w":0.73},{"i":3978,"w":0.57},{"i":3982,"w":0.17},{"i":3986,"w":0.83},{"i":3990,"w":0.38},{"i":3994,"w":0.05},
{"i":3998,"w":0.86},{"i":4002,"w":0.24},{"i":4006,"w":0.53},{"i":4010,"w":0.74},{"i":4014,"w":0.12},{"i":4018,"w":0.96},{"i":4022,"w":0.45},{"i":4026,"w":0.68},{"i":4030,"w":0.31},{"i":4034,"w":0.79},
{"i":4038,"w":0.48},{"i":4042,"w":0.93},{"i":4046,"w":0.16},{"i":4050,"w":0.62},{"i":4054,"w":0.87},{"i":4058,"w":0.35},{"i":4062,"w":0.57},{"i":4066,"w":0.03},{"i":4070,"w":0.74},{"i":4074,"w":0.21},
{"i":4078,"w":0.58},{"i":4082,"w":0.84},{"i":4086,"w":0.26},{"i":4090,"w":0.91},{"i":4094,"w":0.43},{"i":4098,"w":0.67},{"i":4102,"w":0.12},{"i":4106,"w":0.79},
{"i":4350,"w":0.17},{"i":4354,"w":0.63},{"i":4358,"w":0.42},{"i":4362,"w":0.96},{"i":4366,"w":0.28},{"i":4370,"w":0.74},{"i":4374,"w":0.05},{"i":4378,"w":0.57},{"i":4382,"w":0.89},{"i":4386,"w":0.33},
{"i":4390,"w":0.68},{"i":4394,"w":0.12},{"i":4398,"w":0.85},{"i":4402,"w":0.47},{"i":4406,"w":0.73},{"i":4410,"w":0.21},{"i":4414,"w":0.94},{"i":4418,"w":0.38},{"i":4422,"w":0.59},{"i":4426,"w":0.06},
{"i":4430,"w":0.81},{"i":4434,"w":0.44},{"i":4438,"w":0.27},{"i":4442,"w":0.63},{"i":4446,"w":0.92},{"i":4450,"w":0.15},{"i":4454,"w":0.56},{"i":4458,"w":0.78},{"i":4462,"w":0.34},{"i":4466,"w":0.87},
{"i":4470,"w":0.09},{"i":4474,"w":0.52},{"i":4478,"w":0.71},{"i":4482,"w":0.24},{"i":4486,"w":0.66},{"i":4490,"w":0.98},{"i":4494,"w":0.37},{"i":4498,"w":0.13},{"i":4502,"w":0.82},{"i":4506,"w":0.45},
{"i":4510,"w":0.76},{"i":4514,"w":0.29},{"i":4518,"w":0.93},{"i":4522,"w":0.58},{"i":4526,"w":0.04},{"i":4530,"w":0.64},{"i":4534,"w":0.41},{"i":4538,"w":0.87},{"i":4542,"w":0.19},{"i":4546,"w":0.55},
{"i":4550,"w":0.83},{"i":4554,"w":0.36},{"i":4558,"w":0.62},{"i":4562,"w":0.14},{"i":4566,"w":0.75},{"i":4570,"w":0.47},{"i":4574,"w":0.92},{"i":4578,"w":0.26},{"i":4582,"w":0.58},{"i":4586,"w":0.03},
{"i":4590,"w":0.49},{"i":4594,"w":0.71},{"i":4598,"w":0.25},{"i":4602,"w":0.88},{"i":4606,"w":0.39},{"i":4610,"w":0.12},{"i":4614,"w":0.67},{"i":4618,"w":0.95},{"i":4622,"w":0.34},{"i":4626,"w":0.61},
{"i":4630,"w":0.18},{"i":4634,"w":0.84},{"i":4638,"w":0.53},{"i":4642,"w":0.06},{"i":4646,"w":0.77},{"i":4650,"w":0.42},{"i":4654,"w":0.29},{"i":4658,"w":0.63},{"i":4662,"w":0.91},{"i":4666,"w":0.57},
{"i":4670,"w":0.24},{"i":4674,"w":0.69},{"i":4678,"w":0.43},{"i":4682,"w":0.82},{"i":4686,"w":0.15},{"i":4690,"w":0.96},{"i":4694,"w":0.58},{"i":4698,"w":0.31},{"i":4702,"w":0.74},{"i":4706,"w":0.08},
{"i":4710,"w":0.62},{"i":4714,"w":0.37},{"i":4718,"w":0.89},{"i":4722,"w":0.54},{"i":4726,"w":0.21},{"i":4730,"w":0.76},{"i":4734,"w":0.44},{"i":4738,"w":0.13},{"i":4742,"w":0.86},{"i":4746,"w":0.67},
{"i":4750,"w":0.35},{"i":4754,"w":0.93},{"i":4758,"w":0.07},{"i":4762,"w":0.48},{"i":4766,"w":0.72},{"i":4770,"w":0.26},{"i":4774,"w":0.61},{"i":4778,"w":0.97},{"i":4782,"w":0.19},{"i":4786,"w":0.53},
{"i":4790,"w":0.84},{"i":4794,"w":0.16},{"i":4798,"w":0.65},{"i":4802,"w":0.33},{"i":4806,"w":0.88},{"i":4810,"w":0.52},{"i":4814,"w":0.04},{"i":4818,"w":0.79},{"i":4822,"w":0.45},{"i":4826,"w":0.23},
{"i":4830,"w":0.57},{"i":4834,"w":0.82},{"i":4838,"w":0.38},{"i":4842,"w":0.14},{"i":4846,"w":0.69},{"i":4850,"w":0.93},{"i":4854,"w":0.27},{"i":4858,"w":0.61},{"i":4862,"w":0.06},{"i":4866,"w":0.74},
{"i":4870,"w":0.43},{"i":4874,"w":0.96},{"i":4878,"w":0.22},{"i":4882,"w":0.57},{"i":4886,"w":0.84},{"i":4890,"w":0.31},{"i":4894,"w":0.68},{"i":4898,"w":0.12},{"i":4902,"w":0.47},{"i":4906,"w":0.89},
{"i":4910,"w":0.76},{"i":4914,"w":0.54},{"i":4918,"w":0.18},{"i":4922,"w":0.91},{"i":4926,"w":0.36},{"i":4930,"w":0.63},{"i":4934,"w":0.25},{"i":4938,"w":0.82},{"i":4942,"w":0.59},{"i":4946,"w":0.07},
{"i":4950,"w":0.41},{"i":4954,"w":0.67},{"i":4958,"w":0.85},{"i":4962,"w":0.29},{"i":4966,"w":0.52},{"i":4970,"w":0.14},{"i":4974,"w":0.96},{"i":4978,"w":0.73},{"i":4982,"w":0.38},{"i":4986,"w":0.62},
{"i":4990,"w":0.27},{"i":4994,"w":0.88},{"i":4998,"w":0.45},
{"i":5698,"w":0.33},{"i":5702,"w":0.78},{"i":5706,"w":0.54},{"i":5710,"w":0.12},{"i":5714,"w":0.69},{"i":5718,"w":0.87},{"i":5722,"w":0.41},{"i":5726,"w":0.26},{"i":5730,"w":0.93},{"i":5734,"w":0.58},
{"i":5738,"w":0.06},{"i":5742,"w":0.84},{"i":5746,"w":0.47},{"i":5750,"w":0.71},{"i":5754,"w":0.22},{"i":5758,"w":0.63},{"i":5762,"w":0.95},{"i":5766,"w":0.38},{"i":5770,"w":0.15},{"i":5774,"w":0.76},
{"i":5778,"w":0.52},{"i":5782,"w":0.29},{"i":5786,"w":0.67},{"i":5790,"w":0.88},{"i":5794,"w":0.43},{"i":5798,"w":0.04},{"i":5802,"w":0.81},{"i":5806,"w":0.57},{"i":5810,"w":0.34},{"i":5814,"w":0.96},
{"i":5818,"w":0.21},{"i":5822,"w":0.73},{"i":5826,"w":0.62},{"i":5830,"w":0.14},{"i":5834,"w":0.86},{"i":5838,"w":0.49},{"i":5842,"w":0.27},{"i":5846,"w":0.65},{"i":5850,"w":0.92},{"i":5854,"w":0.37},
{"i":5858,"w":0.08},{"i":5862,"w":0.55},{"i":5866,"w":0.79},{"i":5870,"w":0.42},{"i":5874,"w":0.18},{"i":5878,"w":0.68},{"i":5882,"w":0.97},{"i":5886,"w":0.31},{"i":5890,"w":0.63},{"i":5894,"w":0.24},
{"i":5898,"w":0.84},{"i":5902,"w":0.46},{"i":5906,"w":0.13},{"i":5910,"w":0.77},{"i":5914,"w":0.56},{"i":5918,"w":0.92},{"i":5922,"w":0.35},{"i":5926,"w":0.61},{"i":5930,"w":0.19},{"i":5934,"w":0.88},
{"i":5938,"w":0.43},{"i":5942,"w":0.71},{"i":5946,"w":0.28},{"i":5950,"w":0.64},{"i":5954,"w":0.97},{"i":5958,"w":0.53},{"i":5962,"w":0.06},{"i":5966,"w":0.82},{"i":5970,"w":0.37},{"i":5974,"w":0.59},
{"i":5978,"w":0.15},{"i":5982,"w":0.68},{"i":5986,"w":0.84},{"i":5990,"w":0.26},{"i":5994,"w":0.47},{"i":5998,"w":0.93}
      ]},
      "mark": {"type": "point", "filled": true, "shape": "circle", "size": 6, "color": "black", "opacity": 1},
      "encoding": {
        "x": {"field": "i", "type": "quantitative", "scale": {"domain": [0, 6000], "nice": false, "zero": false},
              "axis": {"title": "index i", "values": [0, 1000, 2000, 3000, 4000, 5000, 6000], "format": "d", "labelPadding": 21, "titlePadding": 4}},
        "y": {"field": "w", "type": "quantitative", "scale": {"domain": [-0.1, 1.1], "nice": false, "zero": false},
              "axis": {"title": "\u00b7\u00b7 time series w\u1d62", "values": [0, 0.5, 1], "format": "~g", "labelPadding": 20, "titlePadding": 12}}
      }
    },
    {
      "data": {"values": [
        {"s": 530, "e": 1148, "w": 0.5}, {"s": 1588, "e": 1874, "w": 0.5}, {"s": 2761, "e": 3154, "w": 0.5}, {"s": 4106, "e": 4346, "w": 0.5}, {"s": 4996, "e": 5694, "w": 0.5},
        {"s": 1105, "e": 1146, "w": 0.1}, {"s": 1105, "e": 1146, "w": 0.3}, {"s": 1105, "e": 1146, "w": 0.7}, {"s": 1105, "e": 1146, "w": 0.9},
        {"s": 1830, "e": 1872, "w": 0.1}, {"s": 1830, "e": 1872, "w": 0.3}, {"s": 1830, "e": 1872, "w": 0.7}, {"s": 1830, "e": 1872, "w": 0.9},
        {"s": 3110, "e": 3152, "w": 0.1}, {"s": 3110, "e": 3152, "w": 0.3}, {"s": 3110, "e": 3152, "w": 0.7}, {"s": 3110, "e": 3152, "w": 0.9},
        {"s": 4295, "e": 4344, "w": 0.1}, {"s": 4295, "e": 4344, "w": 0.3}, {"s": 4295, "e": 4344, "w": 0.7}, {"s": 4295, "e": 4344, "w": 0.9},
        {"s": 5640, "e": 5692, "w": 0.1}, {"s": 5640, "e": 5692, "w": 0.3}, {"s": 5640, "e": 5692, "w": 0.7}, {"s": 5640, "e": 5692, "w": 0.9}
      ]},
      "mark": {"type": "rule", "color": "black", "strokeWidth": 2},
      "encoding": {
        "x": {"field": "s", "type": "quantitative", "axis": {"title": "index i", "values": [0, 1000, 2000, 3000, 4000, 5000, 6000], "format": "d", "labelPadding": 21, "titlePadding": 4}},
        "x2": {"field": "e"},
        "y": {"field": "w", "type": "quantitative", "axis": {"title": "\u00b7\u00b7 time series w\u1d62", "values": [0, 0.5, 1], "format": "~g", "labelPadding": 20, "titlePadding": 12}}
      }
    }
  ]
},
{
  "width": 1016, "height": 202,
  "title": {"text": "true driv. force (rare)\u00a0\u00a0 and \u00a0\u00a0est. driv. force (rare / tent map / emb., m=10,\u03c4=1 / SFA\u00b3)\u00a0\u00a0 (r=0.997)", "offset": 7},
  "layer": [
    {
      "data": {"values": [
        {"i": 0, "t": 0.8}, {"i": 471, "t": 0}, {"i": 1095, "t": 0.8}, {"i": 1531, "t": 0}, {"i": 1826, "t": -0.8}, {"i": 2703, "t": 0},
        {"i": 3098, "t": 0.8}, {"i": 4046, "t": 0}, {"i": 4299, "t": -0.8}, {"i": 4965, "t": 0}, {"i": 5648, "t": -0.8}, {"i": 6000, "t": -0.8}
      ]},
      "mark": {"type": "line", "interpolate": "step-after", "color": "black", "strokeWidth": 2},
      "encoding": {
        "x": {"field": "i", "type": "quantitative", "scale": {"domain": [0, 6000], "nice": false, "zero": false},
              "axis": {"title": "index i", "values": [0, 1000, 2000, 3000, 4000, 5000, 6000], "format": "d", "labelPadding": 21, "titlePadding": 4}},
        "y": {"field": "t", "type": "quantitative", "scale": {"domain": [-1.57, 1.57], "nice": false, "zero": false},
              "axis": {"title": "\u2013 true driv. force \u03b3\u1d62", "orient": "left", "values": [-1, 0, 1], "format": "~g", "labelPadding": 20, "titlePadding": 21}}
      }
    },
    {
      "data": {"values": [
{"i":0,"e":1.29},{"i":10,"e":1.27},{"i":20,"e":1.30},{"i":30,"e":1.26},{"i":40,"e":1.28},{"i":50,"e":1.25},{"i":60,"e":1.31},{"i":70,"e":1.27},{"i":80,"e":1.29},{"i":90,"e":1.24},
{"i":100,"e":1.28},{"i":110,"e":1.30},{"i":120,"e":1.26},{"i":130,"e":1.22},{"i":140,"e":1.27},{"i":150,"e":1.29},{"i":160,"e":1.25},{"i":170,"e":1.18},{"i":176,"e":1.05},{"i":182,"e":1.14},
{"i":190,"e":1.24},{"i":200,"e":1.27},{"i":210,"e":1.30},{"i":220,"e":1.26},{"i":230,"e":1.31},{"i":240,"e":1.28},{"i":250,"e":1.25},{"i":260,"e":1.33},{"i":270,"e":1.27},{"i":280,"e":1.29},
{"i":290,"e":1.24},{"i":300,"e":1.28},{"i":310,"e":1.26},{"i":320,"e":1.31},{"i":330,"e":1.27},{"i":340,"e":1.23},{"i":350,"e":1.29},{"i":360,"e":1.20},{"i":366,"e":1.12},{"i":372,"e":1.24},
{"i":380,"e":1.27},{"i":390,"e":1.22},{"i":400,"e":1.25},{"i":410,"e":1.29},{"i":420,"e":1.31},{"i":430,"e":1.27},{"i":440,"e":1.28},{"i":450,"e":1.32},{"i":460,"e":1.27},{"i":470,"e":1.28},
{"i":472,"e":0.15},{"i":476,"e":-0.2},{"i":480,"e":0.1},{"i":485,"e":-0.25},{"i":490,"e":0.2},{"i":495,"e":-0.1},{"i":500,"e":0.05},{"i":505,"e":-0.18},{"i":510,"e":-0.02},{"i":516,"e":-0.05},{"i":1094,"e":-0.04},
{"i":1096,"e":1.19},{"i":1105,"e":1.2},{"i":1115,"e":1.19},{"i":1122,"e":1.22},{"i":1128,"e":1.36},{"i":1135,"e":1.28},{"i":1145,"e":1.33},{"i":1155,"e":1.26},{"i":1165,"e":1.31},{"i":1175,"e":1.24},
{"i":1185,"e":1.29},{"i":1195,"e":1.27},{"i":1205,"e":1.32},{"i":1215,"e":1.25},{"i":1225,"e":1.28},{"i":1235,"e":1.22},{"i":1245,"e":1.30},{"i":1255,"e":1.27},{"i":1265,"e":1.24},{"i":1275,"e":1.29},
{"i":1285,"e":1.26},{"i":1295,"e":1.31},{"i":1305,"e":1.25},{"i":1315,"e":1.28},{"i":1325,"e":1.34},{"i":1335,"e":1.27},{"i":1345,"e":1.18},{"i":1355,"e":1.29},{"i":1365,"e":1.26},{"i":1375,"e":1.30},
{"i":1385,"e":1.23},{"i":1395,"e":1.28},{"i":1405,"e":1.36},{"i":1415,"e":1.26},{"i":1425,"e":1.29},{"i":1435,"e":1.24},{"i":1445,"e":1.15},{"i":1455,"e":1.28},{"i":1465,"e":1.30},{"i":1475,"e":1.26},
{"i":1485,"e":1.29},{"i":1495,"e":1.25},{"i":1505,"e":1.31},{"i":1515,"e":1.27},{"i":1525,"e":1.29},{"i":1530,"e":1.27},
{"i":1532,"e":0.2},{"i":1537,"e":-0.1},{"i":1542,"e":0.08},{"i":1547,"e":-0.22},{"i":1552,"e":-0.35},{"i":1557,"e":0.02},{"i":1562,"e":-0.15},{"i":1568,"e":-0.04},{"i":1575,"e":-0.07},{"i":1825,"e":-0.04},
{"i":1827,"e":-1.19},{"i":1835,"e":-1.2},{"i":1845,"e":-1.19},{"i":1852,"e":-1.24},{"i":1860,"e":-1.12},{"i":1868,"e":-1.28},{"i":1878,"e":-1.25},{"i":1888,"e":-1.30},{"i":1898,"e":-1.14},{"i":1908,"e":-1.27},
{"i":1918,"e":-1.29},{"i":1928,"e":-1.24},{"i":1938,"e":-1.31},{"i":1948,"e":-1.26},{"i":1958,"e":-1.15},{"i":1968,"e":-1.28},{"i":1978,"e":-1.25},{"i":1988,"e":-1.30},{"i":1998,"e":-1.27},{"i":2008,"e":-1.23},
{"i":2018,"e":-1.29},{"i":2028,"e":-1.13},{"i":2038,"e":-1.28},{"i":2048,"e":-1.26},{"i":2058,"e":-1.31},{"i":2068,"e":-1.24},{"i":2078,"e":-1.28},{"i":2088,"e":-1.16},{"i":2098,"e":-1.27},{"i":2108,"e":-1.30},
{"i":2118,"e":-1.25},{"i":2128,"e":-1.29},{"i":2138,"e":-1.23},{"i":2148,"e":-1.14},{"i":2158,"e":-1.31},{"i":2168,"e":-1.26},{"i":2178,"e":-1.28},{"i":2188,"e":-1.24},{"i":2198,"e":-1.30},{"i":2208,"e":-1.17},
{"i":2218,"e":-1.25},{"i":2228,"e":-1.29},{"i":2238,"e":-1.26},{"i":2248,"e":-1.31},{"i":2258,"e":-1.24},{"i":2268,"e":-1.28},{"i":2278,"e":-1.30},{"i":2288,"e":-1.26},{"i":2298,"e":-1.29},{"i":2308,"e":-1.25},
{"i":2318,"e":-1.31},{"i":2328,"e":-1.27},{"i":2338,"e":-1.33},{"i":2348,"e":-1.28},{"i":2358,"e":-1.25},{"i":2368,"e":-1.30},{"i":2378,"e":-1.27},{"i":2388,"e":-1.32},{"i":2398,"e":-1.26},{"i":2408,"e":-1.29},
{"i":2418,"e":-1.24},{"i":2428,"e":-1.31},{"i":2438,"e":-1.27},{"i":2448,"e":-1.30},{"i":2458,"e":-1.25},{"i":2468,"e":-1.29},{"i":2478,"e":-1.33},{"i":2488,"e":-1.27},{"i":2498,"e":-1.30},{"i":2508,"e":-1.26},
{"i":2518,"e":-1.32},{"i":2528,"e":-1.28},{"i":2538,"e":-1.25},{"i":2548,"e":-1.30},{"i":2558,"e":-1.34},{"i":2568,"e":-1.27},{"i":2578,"e":-1.29},{"i":2588,"e":-1.24},{"i":2598,"e":-1.31},{"i":2608,"e":-1.27},
{"i":2618,"e":-1.30},{"i":2628,"e":-1.25},{"i":2638,"e":-1.29},{"i":2648,"e":-1.26},{"i":2658,"e":-1.31},{"i":2668,"e":-1.27},{"i":2678,"e":-1.24},{"i":2688,"e":-1.29},{"i":2698,"e":-1.27},{"i":2702,"e":-1.28},
{"i":2704,"e":-0.1},{"i":2708,"e":0.27},{"i":2712,"e":0.05},{"i":2716,"e":-0.3},{"i":2720,"e":0.18},{"i":2724,"e":-0.15},{"i":2729,"e":0.08},{"i":2735,"e":-0.12},{"i":2742,"e":-0.03},{"i":2750,"e":-0.05},{"i":3097,"e":-0.04},
{"i":3099,"e":1.19},{"i":3110,"e":1.2},{"i":3120,"e":1.19},{"i":3126,"e":1.22},{"i":3132,"e":1.38},{"i":3140,"e":1.27},{"i":3150,"e":1.31},{"i":3160,"e":1.25},{"i":3170,"e":1.29},{"i":3180,"e":1.26},
{"i":3190,"e":1.30},{"i":3200,"e":1.24},{"i":3210,"e":1.28},{"i":3220,"e":1.26},{"i":3230,"e":1.31},{"i":3240,"e":1.27},{"i":3250,"e":1.23},{"i":3260,"e":1.29},{"i":3270,"e":1.26},{"i":3280,"e":1.34},
{"i":3290,"e":1.28},{"i":3300,"e":1.25},{"i":3310,"e":1.30},{"i":3320,"e":1.27},{"i":3330,"e":1.17},{"i":3340,"e":1.29},{"i":3350,"e":1.26},{"i":3360,"e":1.31},{"i":3370,"e":1.25},{"i":3380,"e":1.28},
{"i":3390,"e":1.33},{"i":3400,"e":1.27},{"i":3410,"e":1.24},{"i":3420,"e":1.29},{"i":3430,"e":1.26},{"i":3440,"e":1.30},{"i":3450,"e":1.14},{"i":3460,"e":1.27},{"i":3470,"e":1.29},{"i":3480,"e":1.25},
{"i":3490,"e":1.31},{"i":3500,"e":1.27},{"i":3510,"e":1.24},{"i":3520,"e":1.28},{"i":3530,"e":1.30},{"i":3540,"e":1.26},{"i":3550,"e":1.10},{"i":3560,"e":1.27},{"i":3570,"e":1.22},{"i":3580,"e":1.29},
{"i":3590,"e":1.04},{"i":3600,"e":1.26},{"i":3610,"e":1.30},{"i":3620,"e":1.27},{"i":3630,"e":1.21},{"i":3640,"e":1.28},{"i":3650,"e":1.33},{"i":3660,"e":1.26},{"i":3670,"e":1.29},{"i":3680,"e":1.12},
{"i":3690,"e":1.27},{"i":3700,"e":1.02},{"i":3710,"e":1.25},{"i":3720,"e":1.29},{"i":3730,"e":1.26},{"i":3740,"e":1.31},{"i":3750,"e":1.27},{"i":3760,"e":1.24},{"i":3770,"e":1.29},{"i":3780,"e":1.26},
{"i":3790,"e":1.30},{"i":3800,"e":1.27},{"i":3810,"e":1.25},{"i":3820,"e":1.29},{"i":3830,"e":1.09},{"i":3840,"e":1.27},{"i":3850,"e":1.30},{"i":3860,"e":1.26},{"i":3870,"e":1.28},{"i":3880,"e":1.24},
{"i":3890,"e":1.29},{"i":3900,"e":1.27},{"i":3910,"e":1.31},{"i":3920,"e":1.26},{"i":3930,"e":1.28},{"i":3940,"e":1.25},{"i":3950,"e":1.29},{"i":3960,"e":1.15},{"i":3970,"e":1.27},{"i":3980,"e":1.30},
{"i":3990,"e":1.26},{"i":4000,"e":1.28},{"i":4010,"e":1.25},{"i":4020,"e":1.29},{"i":4030,"e":1.27},{"i":4040,"e":1.30},{"i":4045,"e":1.28},
{"i":4047,"e":0.5},{"i":4051,"e":0.3},{"i":4056,"e":0.4},{"i":4061,"e":0.15},{"i":4066,"e":0.25},{"i":4072,"e":0.02},{"i":4078,"e":0.12},{"i":4085,"e":-0.08},{"i":4092,"e":0.02},{"i":4100,"e":-0.04},{"i":4298,"e":-0.04},
{"i":4300,"e":-1.19},{"i":4310,"e":-1.2},{"i":4320,"e":-1.19},{"i":4330,"e":-1.22},{"i":4338,"e":-1.12},{"i":4346,"e":-1.28},{"i":4355,"e":-1.25},{"i":4365,"e":-1.30},{"i":4375,"e":-1.13},{"i":4385,"e":-1.27},
{"i":4395,"e":-1.29},{"i":4405,"e":-1.15},{"i":4415,"e":-1.28},{"i":4425,"e":-1.31},{"i":4435,"e":-1.25},{"i":4445,"e":-1.29},{"i":4455,"e":-1.14},{"i":4465,"e":-1.27},{"i":4475,"e":-1.30},{"i":4485,"e":-1.26},
{"i":4495,"e":-1.12},{"i":4505,"e":-1.28},{"i":4515,"e":-1.25},{"i":4525,"e":-1.30},{"i":4535,"e":-1.15},{"i":4545,"e":-1.27},{"i":4555,"e":-1.29},{"i":4565,"e":-1.24},{"i":4575,"e":-1.13},{"i":4585,"e":-1.28},
{"i":4595,"e":-1.30},{"i":4605,"e":-1.26},{"i":4615,"e":-1.29},{"i":4625,"e":-1.16},{"i":4635,"e":-1.27},{"i":4645,"e":-1.31},{"i":4655,"e":-1.25},{"i":4665,"e":-1.29},{"i":4675,"e":-1.27},{"i":4685,"e":-1.24},
{"i":4695,"e":-1.30},{"i":4705,"e":-1.27},{"i":4715,"e":-1.32},{"i":4725,"e":-1.26},{"i":4735,"e":-1.29},{"i":4745,"e":-1.25},{"i":4755,"e":-1.31},{"i":4765,"e":-1.27},{"i":4775,"e":-1.29},{"i":4785,"e":-1.24},
{"i":4795,"e":-1.30},{"i":4805,"e":-1.27},{"i":4815,"e":-1.33},{"i":4825,"e":-1.28},{"i":4835,"e":-1.25},{"i":4845,"e":-1.30},{"i":4855,"e":-1.27},{"i":4865,"e":-1.31},{"i":4875,"e":-1.26},{"i":4885,"e":-1.29},
{"i":4895,"e":-1.25},{"i":4905,"e":-1.30},{"i":4915,"e":-1.27},{"i":4925,"e":-1.29},{"i":4935,"e":-1.26},{"i":4945,"e":-1.31},{"i":4955,"e":-1.27},{"i":4963,"e":-1.28},
{"i":4966,"e":-0.35},{"i":4969,"e":0.27},{"i":4973,"e":0.02},{"i":4977,"e":0.2},{"i":4982,"e":-0.12},{"i":4988,"e":0.06},{"i":4995,"e":-0.05},{"i":5647,"e":-0.04},
{"i":5649,"e":-1.19},{"i":5660,"e":-1.2},{"i":5670,"e":-1.19},{"i":5678,"e":-1.22},{"i":5686,"e":-1.12},{"i":5695,"e":-1.28},{"i":5705,"e":-1.25},{"i":5715,"e":-1.30},{"i":5725,"e":-1.14},{"i":5735,"e":-1.27},
{"i":5745,"e":-1.29},{"i":5755,"e":-1.25},{"i":5765,"e":-1.13},{"i":5775,"e":-1.28},{"i":5785,"e":-1.30},{"i":5795,"e":-1.26},{"i":5805,"e":-1.15},{"i":5815,"e":-1.27},{"i":5825,"e":-1.29},{"i":5835,"e":-1.25},
{"i":5845,"e":-1.30},{"i":5855,"e":-1.13},{"i":5865,"e":-1.27},{"i":5875,"e":-1.29},{"i":5885,"e":-1.25},{"i":5895,"e":-1.31},{"i":5905,"e":-1.15},{"i":5915,"e":-1.27},{"i":5925,"e":-1.29},{"i":5935,"e":-1.26},
{"i":5945,"e":-1.30},{"i":5955,"e":-1.14},{"i":5965,"e":-1.28},{"i":5975,"e":-1.25},{"i":5985,"e":-1.12},{"i":5995,"e":-1.29},{"i":6000,"e":-1.27}
      ]},
      "mark": {"type": "line", "color": "black", "strokeWidth": 1.2, "strokeDash": [1.5, 1]},
      "encoding": {
        "x": {"field": "i", "type": "quantitative",
              "axis": {"title": "index i", "values": [0, 1000, 2000, 3000, 4000, 5000, 6000], "format": "d", "labelPadding": 21, "titlePadding": 4}},
        "y": {"field": "e", "type": "quantitative", "scale": {"domain": [-2.5, 2.5], "nice": false, "zero": false},
              "axis": {"title": "\u00b7\u00b7 est. driv. force \u03b3\u1d62\u1d49\u02e2\u1d57", "orient": "right", "values": [-2, 0, 2], "format": "~g", "labelPadding": 16, "titlePadding": 5, "titleAngle": 270, "titleBaseline": "top"}}
      }
    }
  ],
  "resolve": {"scale": {"y": "independent"}}
}
]
}
